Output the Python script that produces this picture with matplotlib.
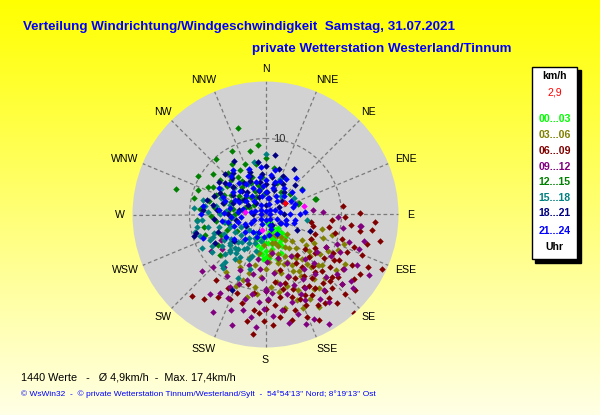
import numpy as np
import matplotlib
matplotlib.use("Agg")
import matplotlib.pyplot as plt
from matplotlib.patches import Rectangle
import matplotlib.transforms as mtransforms

# ---------------- data (direction in compass degrees, speed km/h) ----------------
group_labels = ["00...03", "03...06", "06...09", "09...12", "12...15", "15...18", "18...21", "21...24"]
group_colors = ["#00FF00", "#808000", "#800000", "#800080", "#008000", "#008080", "#000080", "#0000FF"]

g00_03 = [(150,1.2),(155,1.8),(158,2.4),(160,3.0),(162,3.5),(165,2.2),(168,4.0),(170,4.6),(172,5.2),(175,3.8),
          (178,5.5),(180,4.8),(182,5.9),(185,5.2),(188,4.4),(190,3.2),(160,1.5),(163,2.7),(166,3.3),(150,2.0),
          (145,2.6),(140,3.1),(155,4.2),(170,2.5),(175,5.8),(180,2.9),(185,3.6),(190,5.0),(195,4.1),(200,3.4),
          (165,6.0),(158,5.4),(152,4.7),(148,3.9),(172,1.0),(137,2.4),(139,3.3),(142,3.1),(139,3.9),(189,5.2),(183,5.9)]

g03_06 = [(104,7.7),(107,9.2),(111,11.0),(144,12.0),(152,12.6),(132,10.0),(150,5.0),(155,6.0),(160,7.0),(165,8.0),
          (170,9.0),(158,4.5),(162,5.5),(148,6.5),(152,7.5),(140,8.5),(145,7.0),(138,6.0),(135,5.0),(130,7.5),
          (126,8.8),(120,9.5),(118,6.8),(125,5.8),(142,4.2),(146,3.6),(156,3.0),(166,3.8),(172,4.8),(176,6.2),
          (180,7.2),(184,8.2),(188,9.6),(192,6.8),(196,8.0),(214,9.2),(193,11.1),(206,7.7),(199,9.1),(186,10.5),
          (178,11.2),(170,10.4),(163,9.8),(157,10.8),(150,9.4),(143,10.6),(137,11.4),(128,11.8),(122,12.3),(116,10.6),
          (112,8.2),(132,3.8),(168,2.8),(174,5.4),(182,4.0),(190,5.2),(200,6.0),(210,7.0),(202,10.2),(160,12.0),
          (168,12.6),(176,9.6),(154,8.3),(147,11.7),(139,9.2),(133,8.0),(127,6.6),(121,7.4),(158,13.2),(150,14.0),
          (166,6.6),(161,4.0),(153,3.2),(145,5.4),(156,6.8),(163,6.2),(134,9.6),(141,7.6),(149,8.6),(171,7.6)]

g06_09 = [(92,10.5),(84,10.2),(115,16.9),(103,15.4),(166,14.3),(181,14.0),(216,13.7),(217,10.8),(186,15.8),(101,8.5),
          (111,7.0),(97,11.3),(106,13.9),(113,13.8),(122,14.7),(132,13.6),(138,13.1),(150,13.8),(163,13.2),(169,12.8),
          (167,10.0),(145,8.4),(142,6.8),(131,6.9),(139,10.0),(207,10.9),(203,12.1),(200,11.0),(187,12.6),(178,11.3),
          (180,12.4),(118,9.0),(120,10.2),(122,11.4),(125,12.4),(127,9.6),(129,11.0),(133,12.0),(135,10.6),(137,9.2),
          (140,11.8),(142,12.8),(144,10.4),(146,11.6),(148,9.6),(150,12.2),(152,10.8),(154,11.8),(156,13.0),(158,12.0),
          (160,10.4),(162,11.4),(164,9.4),(170,11.0),(172,13.6),(174,12.0),(176,14.6),(184,13.0),(190,14.2),(195,12.0),
          (110,12.4),(108,10.6),(105,9.4),(100,12.6),(98,14.2),(95,8.8),(117,15.2),(120,13.2),(126,14.4),(130,15.4),
          (135,14.8),(141,15.0),(146,14.0),(153,15.6),(158,14.6),(118,6.8),(124,7.8),(128,8.2),(134,8.0),(155,9.2),
          (148,7.6),(160,8.8),(165,7.6),(172,9.0),(180,10.0),(188,10.4),(194,9.4),(210,12.6),(222,14.5),(104,6.4),
          (99,6.0),(89,12.4),(94,14.4),(138,17.4),(131,12.6),(136,12.2),(143,13.8),(149,11.0),(124,10.8),(115,11.8)]

g09_12 = [(197,15.2),(210,11.9),(232,7.3),(150,16.7),(97,12.5),(85,6.3),(155,15.1),(97,12.6),(105,13.4),(110,13.1),
          (119,13.8),(128,14.3),(130,12.2),(117,11.0),(144,14.2),(155,12.4),(178,11.1),(180,9.8),(156,11.4),(138,7.8),
          (178,6.3),(183,8.4),(200,13.4),(193,12.9),(201,9.8),(192,8.0),(186,7.2),(180,10.0),(181,12.4),(135,9.0),
          (140,10.2),(145,8.8),(150,9.8),(152,11.0),(158,10.0),(160,8.6),(163,12.0),(165,10.8),(168,9.4),(170,12.8),
          (172,7.8),(175,10.4),(184,11.6),(188,13.6),(190,10.6),(194,11.4),(196,9.0),(204,12.0),(206,10.6),(212,9.6),
          (218,8.8),(225,9.8),(228,11.2),(236,8.6),(240,6.8),(122,10.2),(125,12.6),(132,13.6),(136,11.4),(142,12.6),
          (147,13.2),(162,13.8),(168,14.6),(176,13.4),(185,14.8),(126,8.4),(118,9.0),(112,10.2),(108,11.6),(100,10.4),
          (92,9.6),(88,7.6),(148,6.4),(156,7.0),(164,6.0),(170,5.2),(190,6.0),(198,7.0),(205,8.0),(215,12.8),
          (160,15.4),(130,15.0),(120,15.8),(208,14.6)]

g12_15 = [(342,11.9),(286,12.2),(332,9.5),(308,8.7),(349,6.8),(72,6.8),(72,4.5),(272,6.0),(0,7.4),(307,7.5),
          (324,6.1),(296,8.4),(306,6.3),(55,5.8),(73,7.0),(71,4.6),(259,8.3),(251,8.4),(228,8.0),(237,7.4),
          (248,5.5),(260,5.6),(270,4.0),(275,5.0),(280,4.4),(285,5.6),(290,4.8),(295,6.0),(300,5.2),(305,4.2),
          (310,5.6),(315,6.4),(320,4.8),(325,5.4),(330,6.8),(335,4.6),(340,5.2),(345,4.0),(350,3.6),(355,5.0),
          (265,4.6),(262,6.6),(268,7.2),(278,6.8),(284,7.6),(292,7.0),(298,7.8),(302,3.6),(312,3.4),(318,7.4),
          (326,8.0),(338,7.2),(346,8.6),(354,9.2),(280,3.2),(288,2.8),(296,2.4),(310,2.0),(320,3.0),(330,2.6),
          (255,5.0),(245,6.4),(240,4.4),(290,9.4),(300,10.2),(318,9.8),(10,6.2),(20,4.4),(35,3.6),(50,4.2),
          (335,3.4),(358,2.8),(275,8.6),(283,9.6),(265,9.0)]

g15_18 = [(275,9.4),(260,9.2),(245,8.0),(221,8.2),(229,6.2),(0,7.9),(22,5.0),(348,7.0),(98,5.5),(252,9.0),
          (247,7.5),(240,8.2),(221,8.8),(223,6.8),(222,6.0),(231,6.0),(215,7.1),(265,8.4),(256,9.6),(265,9.1),
          (283,8.4),(225,6.6),(217,6.4),(211,6.5),(209,5.1),(196,7.4),(198,5.8),(203,9.1),(218,9.0),(200,4.0),
          (205,3.4),(210,4.4),(215,3.8),(220,4.8),(225,5.2),(230,4.2),(235,5.6),(240,4.6),(245,6.0),(250,5.0),
          (255,6.4),(260,5.4),(265,4.4),(270,6.0),(275,5.2),(280,6.6),(285,4.8),(290,6.2),(212,5.4),(218,5.8),
          (226,7.4),(234,7.0),(238,6.4),(243,3.6),(250,7.2),(258,7.8),(272,7.6),(278,8.0),(200,6.2),(195,5.0),
          (190,3.6),(208,2.8),(228,3.0),(40,3.2),(60,4.4),(330,4.6),(310,5.4),(300,6.8),(235,8.6),(242,9.4)]

g18_21 = [(9,7.9),(17,6.2),(32,7.0),(330,8.2),(338,5.4),(355,5.3),(317,6.5),(295,6.6),(284,8.0),(255,9.4),
          (253,9.8),(240,7.6),(110,6.3),(117,4.6),(204,10.9),(298,4.1),(274,8.2),(308,6.7),(322,6.9),(0,4.0),
          (5,3.0),(10,5.0),(15,4.2),(20,3.4),(25,5.6),(30,4.6),(40,3.8),(50,2.8),(350,4.4),(345,3.2),
          (340,6.0),(335,4.8),(325,5.0),(320,3.8),(315,4.4),(310,5.6),(305,3.4),(300,5.0),(290,4.6),(285,5.8),
          (280,3.6),(275,6.4),(270,5.0),(265,6.8),(260,4.0),(305,7.4),(315,7.6),(290,7.2),(280,7.0),(0,6.4),
          (352,7.0),(12,2.2),(340,2.4),(320,2.0),(300,2.6),(60,2.0),(90,2.4),(120,2.2),(150,1.6),(200,2.4),
          (240,3.0),(230,5.4),(250,6.6),(0,1.2),(270,1.6),(45,5.4)]

g21_24 = [(0,0.5),(45,0.8),(90,0.6),(135,0.9),(180,0.7),(225,0.8),(270,0.6),(315,0.9),(20,1.5),(65,1.4),
          (110,1.6),(155,1.5),(200,1.3),(245,1.6),(290,1.5),(335,1.4),(10,2.2),(40,2.4),(80,2.0),(120,2.3),
          (160,2.1),(200,2.4),(240,2.2),(280,2.0),(320,2.3),(350,2.5),(0,3.0),(15,3.6),(30,2.8),(45,3.4),
          (60,3.0),(75,3.8),(90,3.2),(105,2.8),(115,3.0),(150,3.0),(200,3.2),(215,2.8),(230,3.6),(245,3.0),
          (255,3.8),(265,3.2),(275,3.6),(285,3.0),(295,3.8),(305,3.2),(315,3.6),(325,3.0),(335,3.8),(345,3.4),
          (355,3.8),(0,4.6),(8,5.2),(16,4.4),(24,4.8),(35,4.2),(50,4.6),(57,5.8),(70,4.2),(86,5.2),
          (90,4.5),(100,4.0),(107,3.9),(250,4.4),(258,5.0),(266,4.6),(272,5.4),(280,4.8),(288,5.6),(296,4.4),
          (304,5.2),(312,4.6),(320,5.4),(328,4.8),(336,5.6),(344,4.4),(352,5.0),(262,5.8),(276,6.2),(292,6.0),
          (310,6.2),(340,6.4),(355,6.3),(324,7.2),(270,8.5),(278,8.3),(249,8.8),(300,7.0),(318,6.8),(12,6.0),
          (30,5.4),(40,6.2),(232,5.2),(240,6.0),(220,4.2),(185,3.0),(170,2.8),(62,3.8)]

extra_magenta = [(77,5.2),(278,2.7),(194,2.1)]
current_value = [(60,2.9)]

groups = [g00_03, g03_06, g06_09, g09_12, g12_15, g15_18, g18_21, g21_24]

direction_names = ["N","NNE","NE","ENE","E","ESE","SE","SSE","S","SSW","SW","WSW","W","WNW","NW","NNW"]
r_max = 17.5
ring_values = [10]

title1 = "Verteilung Windrichtung/Windgeschwindigkeit  Samstag, 31.07.2021"
title2 = "private Wetterstation Westerland/Tinnum"
footer1 = "1440 Werte   -   \u00d8 4,9km/h  -  Max. 17,4km/h"
footer2 = "\u00a9 WsWin32  -  \u00a9 private Wetterstation Tinnum/Westerland/Sylt  -  54\u00b054'13'' Nord; 8\u00b019'13'' Ost"
legend_unit = "km/h"
legend_current = "2,9"
legend_footer = "Uhr"

# ---------------- figure ----------------
W, H = 600, 415
fig = plt.figure(figsize=(6, 4.15), dpi=100)
FONT = "Liberation Sans"

bg = fig.add_axes([0, 0, 1, 1])
bg.set_xlim(0, W)
bg.set_ylim(H, 0)
bg.axis("off")
grad = np.linspace(0, 1, 256)[:, None]
top = np.array([1.0, 1.0, 0.0])
bot = np.array([1.0, 1.0, 0.90])
img = top[None, None, :] * (1 - grad[:, :, None]) + bot[None, None, :] * grad[:, :, None]
img = np.repeat(img, 2, axis=1)
bg.imshow(img, extent=[0, W, H, 0], aspect="auto", zorder=0)

# titles
bg.text(23, 27, title1, color="#0000FF", fontsize=9.6, fontweight="bold", family=FONT, va="center", ha="left")
bg.text(252, 49, title2, color="#0000FF", fontsize=9.6, fontweight="bold", family=FONT, va="center", ha="left")
bg.text(21, 377, footer1, color="black", fontsize=7.8, family=FONT, va="center", ha="left")
bg.text(21, 394, footer2, color="#0000FF", fontsize=6.0, family=FONT, va="center", ha="left")

# legend box
bx, by, bw, bh = 531.7, 66.7, 45.6, 192.3
bg.add_patch(Rectangle((bx + 3.5, by + 3.5), bw, bh, facecolor="black", edgecolor="black", zorder=2))
bg.add_patch(Rectangle((bx, by), bw, bh, facecolor="white", edgecolor="black", lw=1.0, zorder=3))
lx = bx + bw / 2
bg.text(lx, 76, legend_unit, color="black", fontsize=7.6, fontweight="bold", family=FONT, ha="center", va="center", zorder=4)
bg.text(lx, 92.3, legend_current, color="red", fontsize=7.6, family=FONT, ha="center", va="center", zorder=4)
legend_y = [119.3, 135, 150.7, 166.7, 182.3, 197.7, 213.3, 230.5]
for lab, col, yy in zip(group_labels, group_colors, legend_y):
    bg.text(lx, yy, lab, color=col, fontsize=7.6, fontweight="bold", family=FONT, ha="center", va="center", zorder=4)
bg.text(lx, 246.7, legend_footer, color="black", fontsize=7.6, fontweight="bold", family=FONT, ha="center", va="center", zorder=4)

# polar axes
cx, cy, R = 265.5, 214.5, 133.0
ax = fig.add_axes([(cx - R) / W, (H - cy - R) / H, 2 * R / W, 2 * R / H], projection="polar")
ax.set_theta_zero_location("N")
ax.set_theta_direction(-1)
ax.set_ylim(0, r_max)
ax.set_facecolor("#D2D2D2")
ax.spines["polar"].set_visible(False)
ax.set_xticks(np.deg2rad(np.arange(0, 360, 22.5)))
ax.set_xticklabels([])
ax.set_yticks(ring_values)
ax.set_yticklabels([])
ax.grid(True, color="#7A7A7A", linestyle=(0, (3, 2.2)), linewidth=0.9)

for pts, col in zip(groups, group_colors):
    d = np.deg2rad([p[0] for p in pts])
    s = [p[1] for p in pts]
    ax.plot(d, s, linestyle="none", marker="D", ms=3.3, color=col, mec="none", zorder=3)
for pts, col in ((extra_magenta, "#FF00FF"), (current_value, "#FF0000")):
    d = np.deg2rad([p[0] for p in pts])
    s = [p[1] for p in pts]
    ax.plot(d, s, linestyle="none", marker="D", ms=3.3, color=col, mec="none", zorder=4)

# ring label
ax.annotate(str(ring_values[0]), xy=(0, ring_values[0]), xytext=(10, 0), textcoords="offset points",
            fontsize=8, family=FONT, color="#303030", ha="center", va="center")

# direction labels
for i, name in enumerate(direction_names):
    ang = i * 22.5
    dx_px = 0
    if i % 4 in (1, 3):
        dx_px = 6 * np.sign(np.sin(np.deg2rad(ang)))
    off = mtransforms.ScaledTranslation(dx_px / 100.0, 0, fig.dpi_scale_trans)
    ax.text(np.deg2rad(ang), 19.15, name, fontsize=7.6, family=FONT, color="black",
            ha="center", va="center", clip_on=False, transform=ax.transData + off)

fig.savefig("out.png", dpi=100)
